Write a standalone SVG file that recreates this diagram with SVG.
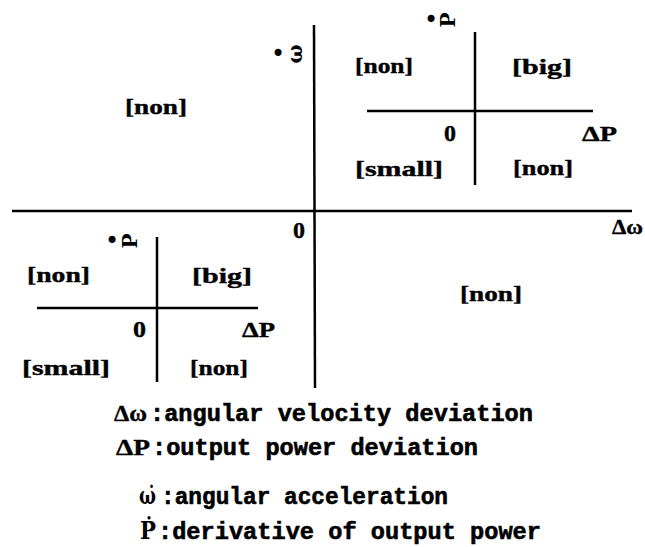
<svg xmlns="http://www.w3.org/2000/svg" width="645" height="547" viewBox="0 0 645 547">
<style>
.ax{stroke:#000;stroke-width:2.5;fill:none}
.t{font-family:"Liberation Serif","DejaVu Serif",serif;font-weight:bold;font-size:22px;fill:#000;stroke:#000;stroke-width:0.4}
.z{font-family:"Liberation Serif","DejaVu Serif",serif;font-weight:bold;font-size:24px;fill:#000;stroke:#000;stroke-width:0.4}
.m{font-family:"Liberation Mono","DejaVu Sans Mono",monospace;font-weight:bold;font-size:23px;fill:#000;stroke:#000;stroke-width:0.6}
.s{font-family:"DejaVu Serif",serif;font-weight:bold;font-size:20px;fill:#000}
.g{font-family:"DejaVu Serif",serif;font-weight:bold;font-size:24px;fill:#000}
.d{font-family:"DejaVu Sans",sans-serif;font-size:24px;fill:#000}
</style>
<rect width="645" height="547" fill="#fff"/>
<g id="connectors">
<line class="ax" x1="12" y1="211" x2="632" y2="211"/>
<line class="ax" x1="314" y1="25" x2="315" y2="388"/>
<line class="ax" x1="475" y1="32" x2="475" y2="185"/>
<line class="ax" x1="367" y1="111" x2="593" y2="111"/>
<line class="ax" x1="157" y1="237" x2="157" y2="382"/>
<line class="ax" x1="37" y1="308" x2="258" y2="308"/>
</g>
<g id="main-plane">
<text class="d" x="278" y="54" text-anchor="middle" dominant-baseline="central">•</text>
<text class="s" transform="translate(295,54) rotate(-90)" text-anchor="middle" dominant-baseline="central">ω</text>
<text class="t" x="612" y="234" textLength="31" lengthAdjust="spacingAndGlyphs">Δω</text>
<text class="z" x="293" y="238" textLength="12" lengthAdjust="spacingAndGlyphs">0</text>
<text class="t" x="125" y="114" textLength="62" lengthAdjust="spacingAndGlyphs">[non]</text>
<text class="t" x="460" y="301" textLength="62" lengthAdjust="spacingAndGlyphs">[non]</text>
</g>
<g id="inset-top-right">
<text class="d" x="431" y="20" text-anchor="middle" dominant-baseline="central">•</text>
<text class="s" transform="translate(448,20) rotate(-90)" text-anchor="middle" dominant-baseline="central">P</text>
<text class="t" x="355" y="73" textLength="58" lengthAdjust="spacingAndGlyphs">[non]</text>
<text class="t" x="512" y="74" textLength="60" lengthAdjust="spacingAndGlyphs">[big]</text>
<text class="z" x="444" y="141" textLength="12" lengthAdjust="spacingAndGlyphs">0</text>
<text class="t" x="582" y="141" textLength="35" lengthAdjust="spacingAndGlyphs">ΔP</text>
<text class="t" x="355" y="176" textLength="88" lengthAdjust="spacingAndGlyphs">[small]</text>
<text class="t" x="513" y="175" textLength="60" lengthAdjust="spacingAndGlyphs">[non]</text>
</g>
<g id="inset-bottom-left">
<text class="d" x="112" y="241" text-anchor="middle" dominant-baseline="central">•</text>
<text class="s" transform="translate(130,241) rotate(-90)" text-anchor="middle" dominant-baseline="central">P</text>
<text class="t" x="27" y="282" textLength="63" lengthAdjust="spacingAndGlyphs">[non]</text>
<text class="t" x="192" y="283" textLength="60" lengthAdjust="spacingAndGlyphs">[big]</text>
<text class="z" x="133" y="337" textLength="13" lengthAdjust="spacingAndGlyphs">0</text>
<text class="t" x="242" y="337" textLength="33" lengthAdjust="spacingAndGlyphs">ΔP</text>
<text class="t" x="22" y="375" textLength="88" lengthAdjust="spacingAndGlyphs">[small]</text>
<text class="t" x="190" y="375" textLength="58" lengthAdjust="spacingAndGlyphs">[non]</text>
</g>
<g id="legend">
<text class="z" x="114" y="421" textLength="33" lengthAdjust="spacingAndGlyphs">Δω</text>
<text class="m" x="150" y="421" textLength="383" lengthAdjust="spacingAndGlyphs">:angular velocity deviation</text>
<text class="z" x="116" y="455" textLength="34" lengthAdjust="spacingAndGlyphs">ΔP</text>
<text class="m" x="152" y="455" textLength="326" lengthAdjust="spacingAndGlyphs">:output power deviation</text>
<text class="g" x="139" y="504" textLength="17" lengthAdjust="spacingAndGlyphs">ω̇</text>
<text class="m" x="161" y="504" textLength="287" lengthAdjust="spacingAndGlyphs">:angular acceleration</text>
<text class="g" x="140" y="539" textLength="16" lengthAdjust="spacingAndGlyphs">Ṗ</text>
<text class="m" x="158" y="539" textLength="383" lengthAdjust="spacingAndGlyphs">:derivative of output power</text>
</g>
</svg>
